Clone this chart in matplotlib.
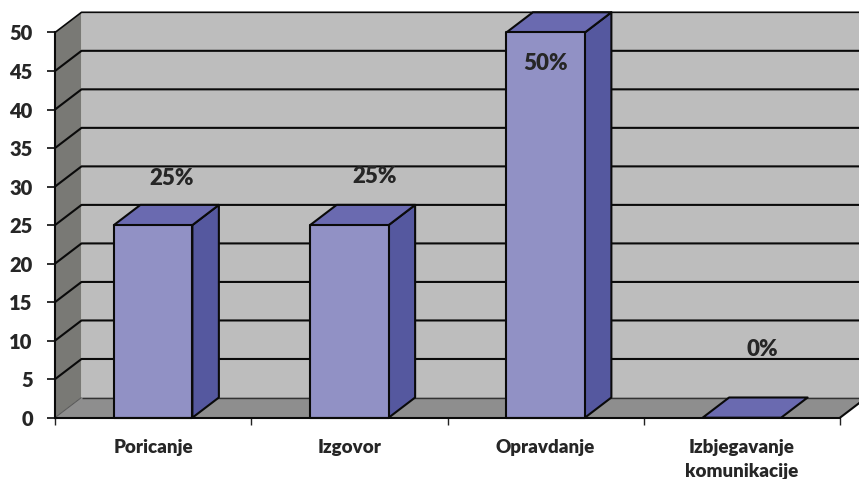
import numpy as np
import matplotlib
matplotlib.use('Agg')
import matplotlib.pyplot as plt
from matplotlib.patches import Polygon

categories = ['Poricanje', 'Izgovor', 'Opravdanje', 'Izbjegavanje\nkomunikacije']
values = [25, 25, 50, 0]
percent_labels = ['25%', '25%', '50%', '0%']
y_ticks = [0, 5, 10, 15, 20, 25, 30, 35, 40, 45, 50]

plt.rcParams['font.family'] = ['Lato', 'DejaVu Sans']
plt.rcParams['font.weight'] = 'bold'

W, H = 859, 479
fig = plt.figure(figsize=(W/100, H/100), dpi=100)
ax = fig.add_axes([55/W, (H-417.7)/H, 785/W, 385.2/H])
ax.set_xlim(0, 4)
ax.set_ylim(0, 50)
ax.patch.set_visible(False)

# depth of the fake 3d box, in data units
dx = 26.5/196.25
dy = 20.2/7.704
bar_w = 0.4
edge = 1.5
dark = '#0a0a0a'

def poly(pts, col, z, ec=dark):
	ax.add_patch(Polygon(pts, closed=True, fc=col, ec=ec, lw=edge, zorder=z, clip_on=False, joinstyle='round'))

def line(xs, ys, lw=edge, c=dark, z=2):
	ax.plot(xs, ys, c=c, lw=lw, zorder=z, clip_on=False, solid_capstyle='butt')

# walls and floor, only some of the edges are black
poly([(dx, 0+dy), (4+dx, 0+dy), (4+dx, 50+dy), (dx, 50+dy)], '#bdbdbd', 1, ec='none')
poly([(0, 0), (dx, dy), (dx, 50+dy), (0, 50)], '#797975', 1, ec='none')
poly([(0, 0), (4, 0), (4+dx, dy), (dx, dy)], '#8e8e8e', 1, ec='none')
line([0, dx], [0, dy], lw=0.7, c='#555555')
line([dx, 4+dx], [dy, dy], lw=1.0, c='#333333')
line([0, dx, 4+dx], [50, 50+dy, 50+dy], lw=1.2)
line([4, 4+dx], [0, dy])

for v in y_ticks[1:-1]:
	line([0, dx, 4+dx], [v, v+dy, v+dy])

# bars
for i, v in enumerate(values):
	x0 = i + 0.5 - bar_w/2
	x1 = x0 + bar_w
	if v > 0:
		poly([(x0, 0), (x1, 0), (x1, v), (x0, v)], '#9191c5', 4)
		poly([(x1, 0), (x1+dx, dy), (x1+dx, v+dy), (x1, v)], '#55589f', 3)
	poly([(x0, v), (x1, v), (x1+dx, v+dy), (x0+dx, v+dy)], '#6a6ab0', 3)

# percent labels, placed by hand like in the original
label_x = [0.593, 1.627, 2.5, 3.605]
label_y = [31.0, 31.3, 46.0, 8.8]
for x, y, s in zip(label_x, label_y, percent_labels):
	ax.text(x, y, s, ha='center', va='center', fontsize=16, fontweight='heavy', color='#262626', zorder=6)

for side in ['top', 'right']:
	ax.spines[side].set_visible(False)
for side in ['left', 'bottom']:
	ax.spines[side].set_linewidth(edge)
	ax.spines[side].set_color(dark)
	ax.spines[side].set_zorder(5)

ax.set_yticks(y_ticks)
ax.set_yticklabels([str(t) for t in y_ticks], fontsize=14.5, fontweight='heavy', color='#262626')
ax.tick_params(axis='y', length=6, width=1.2, color=dark, pad=10)

ax.set_xticks(np.arange(0, 5))
ax.set_xticklabels([])
ax.tick_params(axis='x', which='major', length=5, width=1, color='#222222')
ax.set_xticks(np.arange(4) + 0.5, minor=True)
ax.set_xticklabels(categories, minor=True, fontsize=13.5, fontweight='heavy', color='#262626', linespacing=1.55)
ax.tick_params(axis='x', which='minor', length=0, pad=15)

fig.savefig('out.png', dpi=100)
